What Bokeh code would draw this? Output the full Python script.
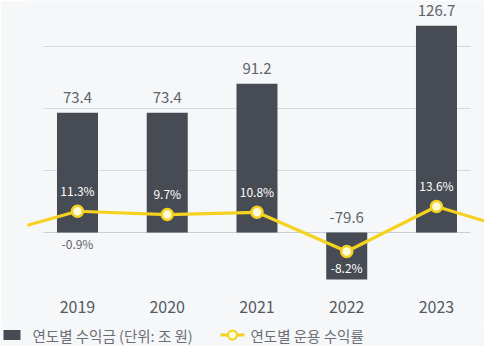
from bokeh.plotting import figure
from bokeh.layouts import column
from bokeh.models import Range1d, FixedTicker, ColumnDataSource
from bokeh.core.properties import value
from bokeh.embed import file_html
from bokeh.resources import INLINE

# ---- data ----
years = [2019, 2020, 2021, 2022, 2023]
profit = [73.4, 73.4, 91.2, -79.6, 126.7]          # 연도별 수익금 (조 원)
line_years = [2018, 2019, 2020, 2021, 2022, 2023, 2024]
line_returns = [-0.9, 11.3, 9.7, 10.8, -8.2, 13.6, 0.5]  # 연도별 운용 수익률 (%)
returns = [11.3, 9.7, 10.8, -8.2, 13.6]
prev_return = -0.9
grid_values = [0, 38, 76, 114]
year_labels = ["2019", "2020", "2021", "2022", "2023"]
legend_labels = ["연도별 수익금 (단위: 조 원)", "연도별 운용 수익률"]

FONT = "Noto Sans CJK KR"
BG = "#f6f7f9"
BAR = "#474b53"
YEL = "#f4d21f"
PTFILL = "#fffbd8"
TXT = "#5f6369"

p = figure(width=484, height=322, output_backend="svg", toolbar_location=None,
           x_range=Range1d(2018.443, 2023.535), y_range=Range1d(-28.8, 142.2),
           y_axis_location=None, min_border_left=27, min_border_right=0,
           min_border_top=0, min_border_bottom=43)
p.extra_y_ranges = {"ret": Range1d(-21.75, 113.4)}
p.background_fill_color = BG
p.border_fill_color = BG
p.outline_line_color = None
p.xgrid.visible = False
p.ygrid.visible = False

# gridlines
gl = ColumnDataSource(dict(x0=[years[0] - 0.379] * len(grid_values),
                           x1=[years[-1] + 0.379] * len(grid_values),
                           y=grid_values,
                           c=["#c9cdd3"] + ["#d6d9dd"] * (len(grid_values) - 1)))
p.segment(x0="x0", x1="x1", y0="y", y1="y", source=gl, line_color="c", line_width=1.2)

# bars
bsrc = ColumnDataSource(dict(x=years, top=profit,
                             ly=[max(v, 0) for v in profit],
                             lt=[f"{v}" for v in profit]))
p.vbar(x="x", top="top", bottom=0, width=0.457, source=bsrc,
       fill_color=BAR, line_color=None)
p.text(x="x", y="ly", text="lt", source=bsrc, text_font=value(FONT),
       text_font_size="15px", text_color=TXT, text_align="center",
       text_baseline="middle", y_offset=-15)

# line
p.line(line_years, line_returns, y_range_name="ret", line_color=YEL, line_width=3.2)
p.scatter(years, returns, y_range_name="ret", size=11,
          fill_color=PTFILL, line_color=YEL, line_width=2.5)

pos = [(x, r) for x, r in zip(years, returns) if r >= 0]
neg = [(x, r) for x, r in zip(years, returns) if r < 0]
p.text(x=[a for a, _ in pos], y=[b for _, b in pos], text=[f"{b}%" for _, b in pos],
       y_range_name="ret", text_font=value(FONT), text_font_size="12px",
       text_color="white", text_align="center", text_baseline="middle", y_offset=-21)
p.text(x=[a for a, _ in neg], y=[b for _, b in neg], text=[f"{b}%" for _, b in neg],
       y_range_name="ret", text_font=value(FONT), text_font_size="12px",
       text_color="white", text_align="center", text_baseline="middle", y_offset=16)
p.text(x=[years[0]], y=[0], text=[f"{prev_return}%"], y_range_name="ret",
       text_font=value(FONT), text_font_size="12px", text_color=TXT,
       text_align="center", text_baseline="middle", y_offset=9)

# x axis
xa = p.xaxis[0]
xa.ticker = FixedTicker(ticks=years)
xa.major_label_overrides = {y: s for y, s in zip(years, year_labels)}
xa.axis_line_color = None
xa.major_tick_line_color = None
xa.minor_tick_line_color = None
xa.major_tick_out = 0
xa.major_tick_in = 0
xa.major_label_standoff = 21
xa.major_label_text_font = FONT
xa.major_label_text_font_size = "16px"
xa.major_label_text_color = "#55595f"

# legend strip: a small pixel-unit figure holding the key
lf = figure(width=484, height=24, output_backend="svg", toolbar_location=None,
            x_range=Range1d(0, 484), y_range=Range1d(0, 24),
            x_axis_location=None, y_axis_location=None,
            min_border_left=0, min_border_right=0, min_border_top=0, min_border_bottom=0)
lf.background_fill_color = BG
lf.border_fill_color = BG
lf.outline_line_color = None
lf.xgrid.visible = False
lf.ygrid.visible = False
ky = 11.5
lf.rect(x=[11.5], y=[ky], width=17, height=10, fill_color=BAR, line_color=None)
lf.text(x=[32], y=[ky], text=[legend_labels[0]], text_font=value(FONT),
        text_font_size="14.5px", text_color="#6b6f75", text_align="left",
        text_baseline="middle")
lf.segment(x0=[220], x1=[244], y0=[ky], y1=[ky], line_color=YEL, line_width=3)
lf.scatter(x=[232], y=[ky], size=9, fill_color=PTFILL, line_color=YEL, line_width=2)
lf.text(x=[250], y=[ky], text=[legend_labels[1]], text_font=value(FONT),
        text_font_size="14.5px", text_color="#6b6f75", text_align="left",
        text_baseline="middle")

for f in (p, lf):
    if "frame_align" in f.properties():
        f.frame_align = False

layout = column(p, lf, spacing=0)
open("out.html", "w").write(file_html(layout, INLINE))
